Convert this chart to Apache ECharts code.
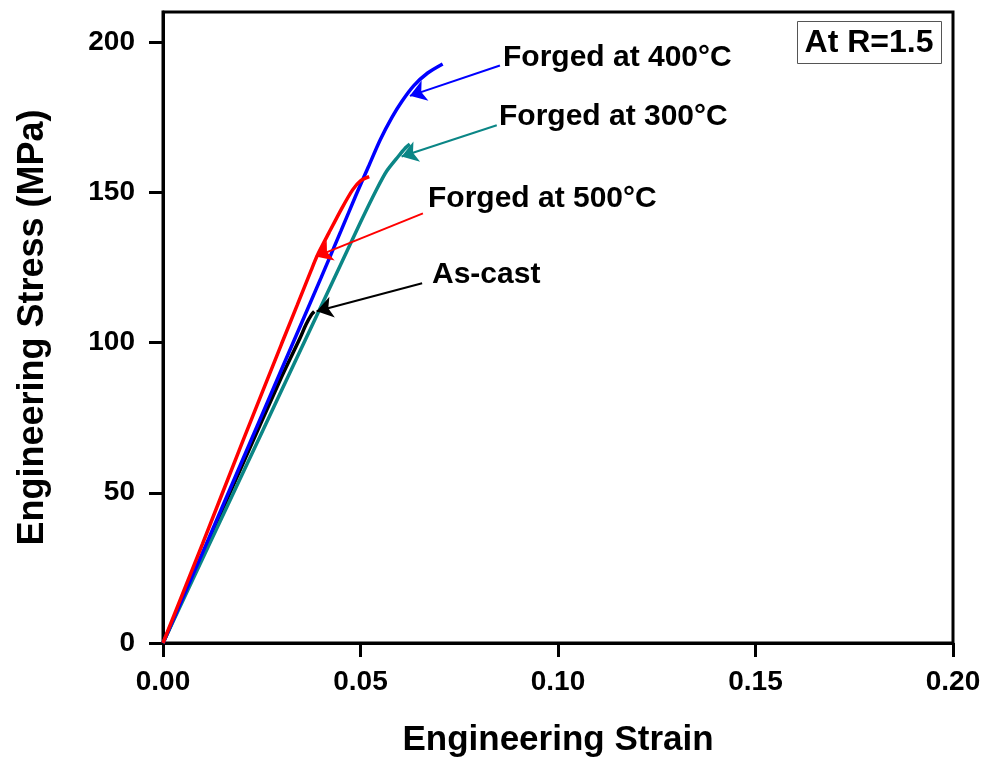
<!DOCTYPE html>
<html>
<head>
<meta charset="utf-8">
<script src="https://cdn.jsdelivr.net/npm/echarts@6/dist/echarts.min.js"></script>
<style>
  html, body { margin: 0; padding: 0; background: #fff; }
  #chart { width: 988px; height: 761px; }
</style>
</head>
<body>
<div id="chart"></div>
<script>
// stress-strain curves
const strainAsCast = [0, 0.010, 0.020, 0.030, 0.0347, 0.0362, 0.0376, 0.0383];
const stressAsCast = [0, 29.5, 59, 88.5, 101.5, 106, 109.3, 110.3];

const strain300 = [0, 0.010, 0.020, 0.030, 0.040, 0.050, 0.0541, 0.0566, 0.0596, 0.0612, 0.0625];
const stress300 = [0, 28, 56, 84, 112, 140, 151, 157, 162, 164.5, 166];

const strain400 = [0, 0.010, 0.020, 0.030, 0.040, 0.045, 0.049, 0.052, 0.055, 0.058, 0.0605, 0.0635, 0.067, 0.0708];
const stress400 = [0, 30, 60.5, 91, 121.5, 137, 149.5, 158.5, 167.5, 175, 180.3, 185.5, 189.7, 192.7];

const strain500 = [0, 0.010, 0.020, 0.030, 0.034, 0.0375, 0.039, 0.042, 0.0452, 0.048, 0.050, 0.0522];
const stress500 = [0, 33, 66.5, 99.5, 112.5, 124, 128.8, 136.5, 144.5, 150.8, 153.8, 155.2];

const yTicks = [0, 50, 100, 150, 200];

// annotation arrows: [label start] -> [tip on curve]
const arrow400 = [[0.0853, 192.2], [0.0625, 182.1]];
const arrow300 = [[0.0845, 172.3], [0.0604, 161.9]];
const arrow500 = [[0.0658, 143.0], [0.0387, 128.6]];
const arrowAsCast = [[0.0656, 119.7], [0.0389, 110.4]];

const FONT = "'Liberation Sans', Arial, sans-serif";

const zip = (xs, ys) => xs.map((x, i) => [x, ys[i]]);

const curve = (name, xs, ys, color) => ({
  name,
  type: "line",
  data: zip(xs, ys),
  showSymbol: false,
  smooth: 0.25,
  lineStyle: { color, width: 3.5 },
  itemStyle: { color },
  z: 3
});

const arrow = (coords, color) => ({
  coords,
  lineStyle: { color, width: 2, opacity: 1 }
});

const chart = echarts.init(document.getElementById("chart"));

const option = {
  animation: false,
  backgroundColor: "#fff",
  grid: {
    left: 163,
    right: 35,
    top: 12,
    bottom: 118,
    outerBoundsMode: "none",
    show: true,
    borderColor: "#000",
    borderWidth: 3,
    backgroundColor: "transparent"
  },
  xAxis: {
    type: "value",
    min: 0,
    max: 0.2,
    interval: 0.05,
    name: "Engineering Strain",
    nameLocation: "middle",
    nameGap: 80,
    nameTextStyle: { fontFamily: FONT, fontWeight: "bold", fontSize: 35, color: "#000" },
    axisLine: { lineStyle: { color: "#000", width: 3 } },
    axisTick: { inside: false, length: 14, lineStyle: { color: "#000", width: 3 } },
    axisLabel: {
      margin: 25,
      fontFamily: FONT,
      fontWeight: "bold",
      fontSize: 28,
      color: "#000",
      formatter: (v) => v.toFixed(2)
    },
    splitLine: { show: false }
  },
  yAxis: {
    type: "value",
    min: 0,
    max: 210,
    interval: 50,
    name: "Engineering Stress (MPa)",
    nameLocation: "middle",
    nameGap: 112,
    nameTextStyle: { fontFamily: FONT, fontWeight: "bold", fontSize: 36, color: "#000" },
    axisLine: { lineStyle: { color: "#000", width: 3 } },
    axisTick: { inside: false, length: 14, customValues: yTicks, lineStyle: { color: "#000", width: 3 } },
    axisLabel: {
      margin: 28,
      customValues: yTicks,
      fontFamily: FONT,
      fontWeight: "bold",
      fontSize: 28,
      color: "#000"
    },
    splitLine: { show: false }
  },
  series: [
    curve("As-cast", strainAsCast, stressAsCast, "#000000"),
    curve("Forged at 300°C", strain300, stress300, "#0b8686"),
    curve("Forged at 400°C", strain400, stress400, "#0000ff"),
    curve("Forged at 500°C", strain500, stress500, "#ff0000"),
    {
      type: "lines",
      coordinateSystem: "cartesian2d",
      symbol: ["none", "arrow"],
      symbolSize: [9, 16],
      z: 4,
      lineStyle: { opacity: 1 },
      data: [
        arrow(arrow400, "#0000ff"),
        arrow(arrow300, "#0b8686"),
        arrow(arrow500, "#ff0000"),
        arrow(arrowAsCast, "#000000")
      ]
    }
  ],
  graphic: [
    { type: "text", left: 503, top: 60 - 17, style: { text: "Forged at 400°C", font: "bold 30px " + FONT, fill: "#000" } },
    { type: "text", left: 499, top: 119 - 17, style: { text: "Forged at 300°C", font: "bold 30px " + FONT, fill: "#000" } },
    { type: "text", left: 428, top: 201 - 17, style: { text: "Forged at 500°C", font: "bold 30px " + FONT, fill: "#000" } },
    { type: "text", left: 432, top: 277 - 17, style: { text: "As-cast", font: "bold 30px " + FONT, fill: "#000" } },
    {
      type: "rect",
      shape: { x: 797.5, y: 21.5, width: 144, height: 42 },
      style: { fill: "#fff", stroke: "#555", lineWidth: 1 }
    },
    {
      type: "text",
      x: 869, y: 43,
      style: { text: "At R=1.5", font: "bold 32px " + FONT, fill: "#000", align: "center", verticalAlign: "middle" }
    }
  ]
};

chart.setOption(option);
</script>
</body>
</html>
